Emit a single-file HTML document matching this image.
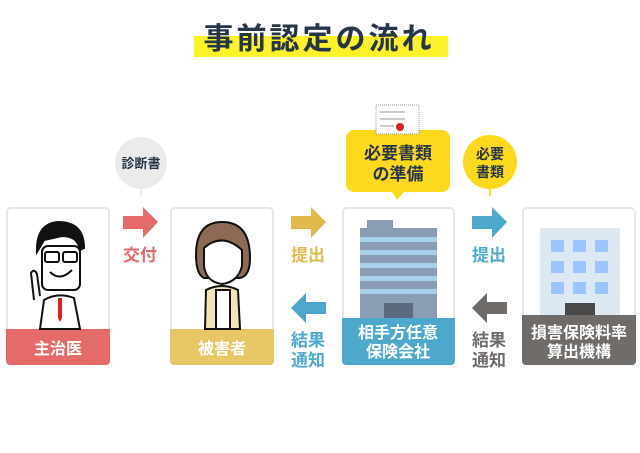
<!DOCTYPE html>
<html><head><meta charset="utf-8"><style>
body{margin:0;background:#fff;}
svg{display:block}
text{font-family:"Liberation Sans","Noto Sans CJK JP",sans-serif;font-weight:bold;}
</style></head><body>
<svg width="640" height="453" viewBox="0 0 640 453" xmlns="http://www.w3.org/2000/svg">
<rect x="194" y="36" width="254" height="21" fill="#fcf22a"/>
<text x="319" y="49" font-size="30" fill="#263548" text-anchor="middle" letter-spacing="3">事前認定の流れ</text>

<!-- cards -->
<g stroke="#e6e6e6" stroke-width="2" fill="#fff">
<rect x="7" y="208" width="102" height="156" rx="4"/>
<rect x="171" y="208" width="102" height="156" rx="4"/>
<rect x="343" y="208" width="111" height="156" rx="4"/>
<rect x="523" y="208" width="112" height="156" rx="4"/>
</g>
<path d="M6 329H110V361a4 4 0 0 1-4 4H10a4 4 0 0 1-4-4Z" fill="#e56b6b"/>
<path d="M170 329H274V361a4 4 0 0 1-4 4H174a4 4 0 0 1-4-4Z" fill="#e6c665"/>
<path d="M342 318H455V361a4 4 0 0 1-4 4H346a4 4 0 0 1-4-4Z" fill="#4ea8cc"/>
<path d="M522 315H636V361a4 4 0 0 1-4 4H526a4 4 0 0 1-4-4Z" fill="#6e6b69"/>
<g fill="#fff" font-size="16" text-anchor="middle">
<text x="58" y="354">主治医</text>
<text x="222" y="354">被害者</text>
<text x="398" y="338">相手方任意</text>
<text x="398" y="357">保険会社</text>
<text x="579" y="338">損害保険料率</text>
<text x="579" y="357">算出機構</text>
</g>

<!-- doctor -->
<g stroke="#111" stroke-width="2" fill="#fff">
<path d="M40 329 L44 300 Q58 292 74 298 L80 329Z"/>
<rect x="42" y="246" width="38" height="44" rx="6"/>
<path d="M37 252 Q36 224 58 222 Q84 222 84 248 L80 250 Q78 236 62 236 L44 240 Z" fill="#111"/>
<rect x="45" y="252" width="14" height="10" rx="2"/><rect x="63" y="252" width="14" height="10" rx="2"/>
<path d="M50 272 Q60 282 72 270" fill="none"/>
<path d="M34 300 L31 273 Q34 268 37 274 L40 296" />
</g>
<path d="M58 298 L62 298 L62 318 L60 322 L58 318Z" fill="#e02020"/>

<!-- woman -->
<g stroke="#111" stroke-width="2">
<path d="M205 329 L206 290 Q222 282 238 290 L240 329Z" fill="#f2e4b8"/>
<path d="M216 290 L216 329 L230 329 L230 290Z" fill="#fff"/>
<path d="M196 255 Q196 222 222 222 Q250 222 250 258 Q250 276 240 278 L204 278 Q196 274 196 255Z" fill="#8d6a55"/>
<path d="M204 248 Q222 232 242 250 L242 266 Q238 282 222 284 Q206 282 204 266Z" fill="#fff"/>
</g>

<!-- building blue -->
<rect x="367" y="220" width="26" height="8" fill="#8a9db4"/>
<rect x="360" y="228" width="77" height="90" fill="#8a9db4"/>
<g fill="#a7d0ec">
<rect x="360" y="237" width="77" height="5"/><rect x="360" y="250" width="77" height="5"/>
<rect x="360" y="263" width="77" height="5"/><rect x="360" y="276" width="77" height="5"/>
<rect x="360" y="289" width="77" height="5"/>
</g>
<rect x="384" y="303" width="29" height="15" fill="#5a6b7f"/>

<!-- building light -->
<rect x="540" y="228" width="80" height="87" fill="#dce9f3"/>
<g fill="#9cc4ff">
<rect x="551" y="240" width="13" height="12"/><rect x="573" y="240" width="13" height="12"/><rect x="595" y="240" width="13" height="12"/>
<rect x="551" y="261" width="13" height="12"/><rect x="573" y="261" width="13" height="12"/><rect x="595" y="261" width="13" height="12"/>
<rect x="551" y="282" width="13" height="12"/><rect x="573" y="282" width="13" height="12"/><rect x="595" y="282" width="13" height="12"/>
</g>
<rect x="565" y="303" width="30" height="12" fill="#4a4848"/>

<!-- arrows -->
<path d="M123 216H143V207L158 222L143 238V229H123Z" fill="#e56b6b"/>
<path d="M291 216H311V207L326 222L311 238V229H291Z" fill="#e0b94c"/>
<path d="M472 216H492V207L507 222L492 238V229H472Z" fill="#4ea8cc"/>
<path d="M326 302H306V293L291 308L306 323V314H326Z" fill="#4ea8cc"/>
<path d="M507 302H487V293L472 308L487 323V314H507Z" fill="#6e6b69"/>
<g font-size="17" text-anchor="middle">
<text x="140" y="261" fill="#e56b6b">交付</text>
<text x="308" y="261" fill="#e0b94c">提出</text>
<text x="489" y="261" fill="#4ea8cc">提出</text>
<text x="308" y="346" fill="#4ea8cc">結果</text>
<text x="308" y="366" fill="#4ea8cc">通知</text>
<text x="489" y="346" fill="#6e6b69">結果</text>
<text x="489" y="366" fill="#6e6b69">通知</text>
</g>

<!-- bubbles -->
<circle cx="141" cy="163" r="26" fill="#ebebeb"/>
<line x1="141" y1="189" x2="141" y2="196" stroke="#ebebeb" stroke-width="2"/>
<text x="141" y="168" font-size="13" fill="#263548" text-anchor="middle">診断書</text>

<path d="M354 130H442a8 8 0 0 1 8 8V184a8 8 0 0 1-8 8H404L397 200L392 192H354a8 8 0 0 1-8-8V138a8 8 0 0 1 8-8Z" fill="#fcd91c"/>
<text x="398" y="159" font-size="17" fill="#263548" text-anchor="middle">必要書類</text>
<text x="398" y="180" font-size="17" fill="#263548" text-anchor="middle">の準備</text>
<rect x="376" y="105" width="43" height="29" fill="#fff" stroke="#999" stroke-width="1" stroke-dasharray="1,1"/>
<g stroke="#999" stroke-width="1"><line x1="380" y1="112" x2="405" y2="112"/><line x1="380" y1="119" x2="405" y2="119"/><line x1="380" y1="126" x2="394" y2="126"/></g>
<circle cx="400" cy="127" r="4" fill="#e02020"/>

<circle cx="490" cy="162" r="27" fill="#fcd91c"/>
<line x1="490" y1="189" x2="490" y2="196" stroke="#fcd91c" stroke-width="2"/>
<text x="490" y="159" font-size="14" fill="#263548" text-anchor="middle">必要</text>
<text x="490" y="177" font-size="14" fill="#263548" text-anchor="middle">書類</text>
</svg>
</body></html>
